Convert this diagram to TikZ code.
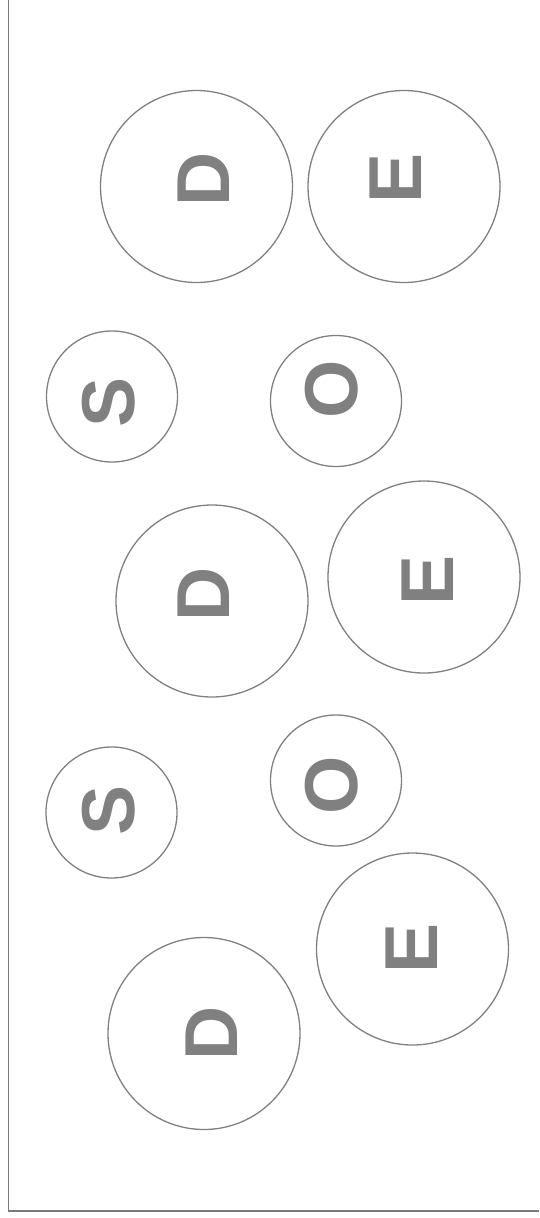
\documentclass[tikz,border=0pt]{standalone}
\usepackage{fontspec}
\setmainfont{Liberation Sans}
\usepackage{tikz}

\definecolor{ringgray}{HTML}{808080}
\definecolor{glyphgray}{HTML}{808080}
\definecolor{framegray}{HTML}{7A7A7A}

\begin{document}
\begin{tikzpicture}[x=1pt,y=-1pt,
    ring/.style={circle,draw=ringgray,line width=1.3pt,inner sep=0pt,minimum size=#1},
    glyph/.style={text=glyphgray,rotate=90,inner sep=0pt,font=\bfseries\fontsize{75}{75}\selectfont}]
    \useasboundingbox (0,0) rectangle (539,1218);
    % frame: left and bottom edges only
    \coordinate (frametop) at (8.5,0);
    \coordinate (framecorner) at (8.5,1211);
    \coordinate (frameright) at (539,1211);
    \draw[framegray,line width=1.8pt] (frametop) -- (framecorner) -- (frameright);
    % circles with rotated letters
    \foreach \n/\cx/\cy/\d/\lx/\ly/\t in {
        1/196.5/186.5/192/204/179/D,
        2/404/186.5/192/396/178/E,
        3/112/396.5/131/108.5/402/S,
        4/336/401/131/332/389/O,
        5/212/601/192/204/594.5/D,
        6/424/577/192/428/580.5/E,
        7/111.5/812.5/131/108.5/810.5/S,
        8/336/780.5/131/332/785/O,
        9/412.5/949/192/412/948.5/E,
        10/204/1033.5/192/211.5/1033.5/D} {
        \node[ring=\d pt] (ring\n) at (\cx,\cy) {};
        \node[glyph] (letter\n) at (\lx,\ly) {\t};
    }
\end{tikzpicture}
\end{document}
